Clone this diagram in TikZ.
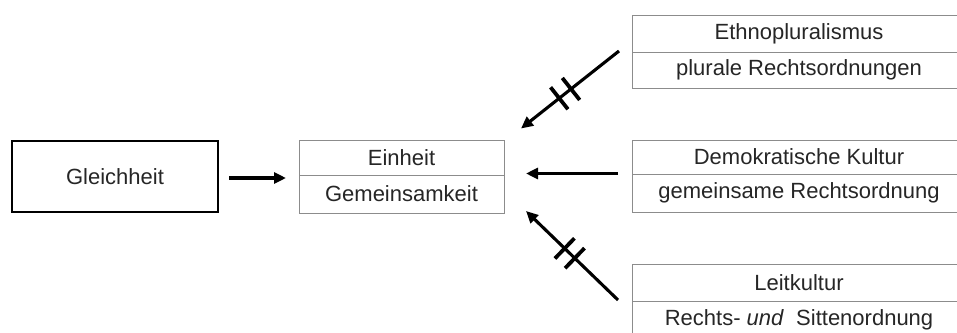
\documentclass[tikz,border=0pt]{standalone}
\usepackage{fontspec}
\setmainfont{Liberation Sans}
\usetikzlibrary{arrows.meta,decorations.markings}
\definecolor{boxgray}{HTML}{8C8C8C}
\definecolor{txtgray}{HTML}{262626}
\begin{document}
\begin{tikzpicture}[x=1pt,y=-1pt,
  cell/.style={draw=boxgray, line width=1pt, inner sep=0pt, outer sep=0pt,
    text=txtgray, font=\fontsize{22}{26}\selectfont, minimum width=#1},
  mainbox/.style={draw=black, line width=1.6pt, inner sep=0pt, outer sep=0pt,
    text=txtgray, font=\fontsize{22}{26}\selectfont, minimum width=206pt, minimum height=71pt},
  arr/.style={line width=3.1pt, -{Triangle[length=12pt,width=11pt]}},
  tickmark/.style={line width=3.8pt, arrows=-},
  blocked/.style 2 args={postaction={decorate}, decoration={markings,
    mark=at position #1 with {\draw[tickmark] (0pt,-14pt) -- (0pt,14pt);},
    mark=at position #2 with {\draw[tickmark] (0pt,-14pt) -- (0pt,14pt);}}}]
\useasboundingbox (0,0) rectangle (957,332);
\clip (0,0) rectangle (957,332);
\fill[white] (0,0) rectangle (957,332);

% left box
\node[mainbox] (gleich) at (115,176.5) {Gleichheit};

% center box
\node[cell=205pt, minimum height=35pt] (ein) at (401.5,157.5) {Einheit};
\node[cell=205pt, minimum height=38pt] (gem) at (401.5,194) {Gemeinsamkeit};

% right boxes (cut at the right edge)
\node[cell=334pt, minimum height=37pt] (ethno) at (799,33.5) {Ethnopluralismus};
\node[cell=334pt, minimum height=36pt] (plural) at (799,70) {plurale Rechtsordnungen};

\node[cell=334pt, minimum height=34pt] (demo) at (799,157) {Demokratische Kultur};
\node[cell=334pt, minimum height=38pt] (gemrecht) at (799,193) {gemeinsame Rechtsordnung};

\node[cell=334pt, minimum height=37pt] (leit) at (799,282.5) {Leitkultur};
\node[cell=334pt, minimum height=37pt] (sitten) at (799,319.5) {Rechts- \textit{und}\ \ Sittenordnung};

% connector end points
\coordinate (g1) at (229,178);
\coordinate (g2) at (286,178);
\coordinate (d1) at (618,173.5);
\coordinate (d2) at (526,173.5);
\coordinate (e1) at (619,51);
\coordinate (e2) at (521,128.5);
\coordinate (l1) at (618,300);
\coordinate (l2) at (526,211);

\draw[arr] (g1) -- (g2);
\draw[arr] (d1) -- (d2);
\draw[arr, blocked={0.49}{0.61}] (e1) -- (e2);
\draw[arr, blocked={0.47}{0.58}] (l1) -- (l2);
\end{tikzpicture}
\end{document}
